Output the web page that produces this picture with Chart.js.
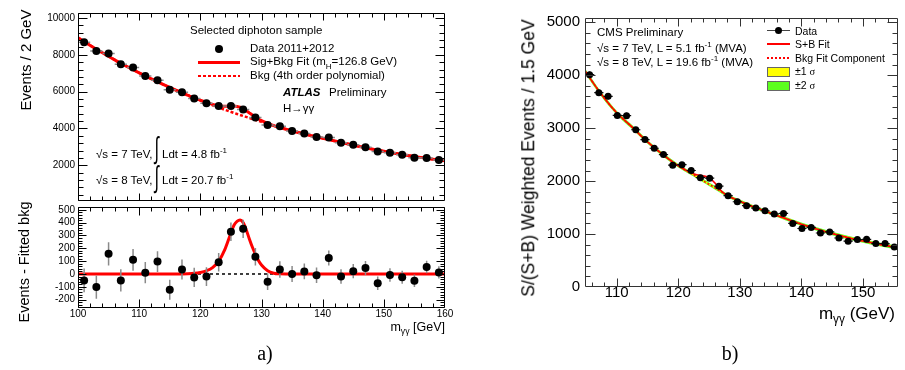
<!DOCTYPE html>
<html>
<head>
<meta charset="utf-8">
<script src="https://cdn.jsdelivr.net/npm/chart.js@4/dist/chart.umd.min.js"></script>
<style>
  body { margin: 0; background: #fff; }
  #fig { position: relative; width: 905px; height: 370px; background: #fff; overflow: hidden;
         font-family: 'Liberation Sans', Arial, Helvetica, sans-serif; color: #000; }
  canvas { position: absolute; }
  .t { position: absolute; white-space: nowrap; line-height: 1; transform: translateY(-50%); }
  .r { transform: translate(-100%, -50%); }
  .c { transform: translate(-50%, -50%); }
  .v { transform: translate(-50%, -50%) rotate(-90deg); }
  .serif { font-family: 'Liberation Serif', 'Times New Roman', serif; }
  sub, sup { font-size: 70%; line-height: 0; }
  .mk { position: absolute; }
</style>
</head>
<body>
<div id="fig">
  <canvas id="atlasMain" width="460" height="205" style="left:0;top:0"></canvas>
  <canvas id="atlasRes" width="460" height="125" style="left:0;top:203px"></canvas>
  <canvas id="cms" width="455" height="305" style="left:450px;top:0"></canvas>

  <!-- ATLAS panel text -->
  <div class="t v" style="left:25px;top:60px;font-size:15px">Events / 2 GeV</div>
  <div class="t v" style="left:24px;top:262px;font-size:14.5px">Events - Fitted bkg</div>
  <div class="t" style="left:190px;top:31px;font-size:11.5px">Selected diphoton sample</div>
  <div class="mk" style="left:215px;top:45px;width:8px;height:8px;border-radius:50%;background:#000"></div>
  <div class="t" style="left:250px;top:49px;font-size:11.5px">Data 2011+2012</div>
  <div class="mk" style="left:198px;top:61px;width:42px;height:3px;background:#f00"></div>
  <div class="t" style="left:250px;top:62px;font-size:11.5px">Sig+Bkg Fit (m<sub>H</sub>=126.8 GeV)</div>
  <div class="mk" style="left:198px;top:75px;width:42px;height:2px;background:repeating-linear-gradient(to right,#f00 0 3px,transparent 3px 5px)"></div>
  <div class="t" style="left:250px;top:76px;font-size:11.5px">Bkg (4th order polynomial)</div>
  <div class="t" style="left:283px;top:93px;font-size:11.5px;font-weight:bold;font-style:italic">ATLAS</div>
  <div class="t" style="left:329px;top:93px;font-size:11.5px">Preliminary</div>
  <div class="t" style="left:283px;top:109px;font-size:11.5px">H→γγ</div>
  <div class="t" style="left:96px;top:155px;font-size:11.5px">√s = 7 TeV,</div>
  <div class="t" style="left:154px;top:147px;font-size:20px;transform:translateY(-50%) scale(0.8,1.5)">∫</div>
  <div class="t" style="left:162px;top:155px;font-size:11.5px">Ldt = 4.8 fb<sup>-1</sup></div>
  <div class="t" style="left:96px;top:181px;font-size:11.5px">√s = 8 TeV,</div>
  <div class="t" style="left:154px;top:176px;font-size:20px;transform:translateY(-50%) scale(0.8,1.5)">∫</div>
  <div class="t" style="left:162px;top:181px;font-size:11.5px">Ldt = 20.7 fb<sup>-1</sup></div>
  <div class="t r" style="left:445px;top:327px;font-size:12.5px">m<sub>γγ</sub> [GeV]</div>
  <div class="t c serif" style="left:265px;top:353px;font-size:20px">a)</div>

  <!-- CMS panel text -->
  <div class="t v" style="left:529px;top:158px;font-size:17.5px">S/(S+B) Weighted Events / 1.5 GeV</div>
  <div class="t" style="left:597px;top:33px;font-size:11.5px">CMS Preliminary</div>
  <div class="t" style="left:597px;top:49px;font-size:11.5px">√s = 7 TeV, L = 5.1 fb<sup>-1</sup> (MVA)</div>
  <div class="t" style="left:597px;top:63px;font-size:11.5px">√s = 8 TeV, L = 19.6 fb<sup>-1</sup> (MVA)</div>
  <div class="mk" style="left:767px;top:30px;width:23px;height:1px;background:#444"></div>
  <div class="mk" style="left:775px;top:27px;width:7px;height:7px;border-radius:50%;background:#000"></div>
  <div class="t" style="left:795px;top:31px;font-size:10.5px">Data</div>
  <div class="mk" style="left:767px;top:43px;width:23px;height:2px;background:#f00"></div>
  <div class="t" style="left:795px;top:44px;font-size:10.5px">S+B Fit</div>
  <div class="mk" style="left:767px;top:57px;width:23px;height:2px;background:repeating-linear-gradient(to right,#f00 0 2px,transparent 2px 4px)"></div>
  <div class="t" style="left:795px;top:58px;font-size:10.5px">Bkg Fit Component</div>
  <div class="mk" style="left:767px;top:67px;width:21px;height:8px;background:#ffff00;border:1px solid #666"></div>
  <div class="t" style="left:795px;top:72px;font-size:10.5px">±1 <span class="serif">σ</span></div>
  <div class="mk" style="left:767px;top:81px;width:21px;height:8px;background:#5cff1f;border:1px solid #666"></div>
  <div class="t" style="left:795px;top:86px;font-size:10.5px">±2 <span class="serif">σ</span></div>
  <div class="t r" style="left:895px;top:313px;font-size:17px">m<sub>γγ</sub> (GeV)</div>
  <div class="t c serif" style="left:730px;top:353px;font-size:20px">b)</div>
</div>

<script>
// ---------- ATLAS data (a) ----------
const atlasMass = [101, 103, 105, 107, 109, 111, 113, 115, 117, 119, 121, 123, 125, 127, 129,
                   131, 133, 135, 137, 139, 141, 143, 145, 147, 149, 151, 153, 155, 157, 159];
const atlasEvents = [8680, 8200, 8075, 7480, 7305, 6855, 6620, 6100, 5960, 5620, 5370, 5225, 5225, 5030, 4600,
                     4190, 4115, 3865, 3720, 3540, 3505, 3220, 3115, 2985, 2755, 2685, 2575, 2415, 2390, 2285];
const atlasErr = [93, 91, 90, 87, 85, 83, 81, 78, 77, 75, 73, 72, 72, 71, 68,
                  65, 64, 62, 61, 60, 59, 57, 56, 55, 53, 52, 51, 49, 49, 48];
const atlasResid = [-50, -102, 157, -50, 110, 10, 97, -122, 35, -27, -20, 92, 330, 352, 135,
                    -60, 35, 0, 20, -10, 125, -20, 22, 47, -72, -8, -25, -52, 55, 12];

const atlasBkgX = [100, 102, 104, 106, 108, 110, 112, 114, 116, 118, 120, 122, 124, 126, 128, 130,
                   132, 134, 136, 138, 140, 142, 144, 146, 148, 150, 152, 154, 156, 158, 160];
const atlasBkgY = [8930, 8510, 8110, 7725, 7365, 7020, 6690, 6375, 6075, 5790, 5520, 5260, 5015, 4785, 4570, 4355,
                   4150, 3960, 3780, 3620, 3470, 3315, 3165, 3020, 2885, 2760, 2645, 2535, 2430, 2330, 2240];

const atlasFitX = [100, 102, 104, 106, 108, 110, 112, 114, 116, 118, 119, 120, 121, 122, 123, 124, 125, 125.5,
                   126, 126.5, 127, 127.5, 128, 128.5, 129, 129.5, 130, 131, 132, 133, 134, 136, 138, 140,
                   142, 144, 146, 148, 150, 152, 154, 156, 158, 160];
const atlasFitY = [8930, 8510, 8110, 7725, 7365, 7020, 6690, 6375, 6075, 5792, 5652, 5532, 5415, 5310, 5234, 5205, 5216, 5220,
                   5195, 5150, 5075, 4967, 4845, 4726, 4617, 4513, 4425, 4273, 4156, 4055, 3960, 3780, 3620, 3470,
                   3315, 3165, 3020, 2885, 2760, 2645, 2535, 2430, 2330, 2240];

const atlasSigX = [100, 116, 118, 119, 120, 121, 122, 123, 124, 125, 125.5, 126, 126.5, 127, 127.5,
                   128, 128.5, 129, 129.5, 130, 131, 132, 133, 134, 160];
const atlasSigY = [0, 0, 2, 5, 12, 25, 50, 100, 190, 320, 380, 410, 420, 400, 345,
                   275, 210, 155, 105, 70, 25, 6, 1, 0, 0];

const atlasXTicks = [100, 110, 120, 130, 140, 150, 160];
const atlasMainYTicks = [2000, 4000, 6000, 8000, 10000];
const atlasResYTicks = [-200, -100, 0, 100, 200, 300, 400, 500];

// ---------- CMS data (b) ----------
const cmsMass = [105.6, 107.1, 108.6, 110.1, 111.6, 113.1, 114.6, 116.1, 117.6, 119.1, 120.6, 122.1,
                 123.6, 125.1, 126.6, 128.1, 129.6, 131.1, 132.6, 134.1, 135.6, 137.1, 138.6, 140.1,
                 141.6, 143.1, 144.6, 146.1, 147.6, 149.1, 150.6, 152.1, 153.6, 155.1];
const cmsEvents = [4010, 3670, 3600, 3240, 3235, 2970, 2785, 2620, 2500, 2300, 2310, 2200,
                   2065, 2055, 1905, 1725, 1610, 1535, 1490, 1440, 1380, 1390, 1200, 1105,
                   1125, 1020, 1040, 925, 865, 895, 900, 820, 820, 755];
const cmsErr = [60, 58, 57, 55, 55, 52, 51, 50, 49, 47, 47, 46, 45, 45, 43, 41, 40,
                40, 39, 39, 38, 38, 36, 35, 35, 34, 34, 33, 32, 32, 32, 31, 31, 30];

const cmsCurveX = [104.85, 107.5, 110, 112.5, 115, 117.5, 120, 122, 123, 124, 125, 126, 127,
                   128, 130, 132.5, 135, 137.5, 140, 142.5, 145, 147.5, 150, 152.5, 155, 155.7];
const cmsBkgY = [4080, 3640, 3290, 3020, 2740, 2500, 2290, 2150, 2080, 2010, 1940, 1870, 1800,
                 1725, 1620, 1500, 1395, 1290, 1185, 1095, 1010, 935, 870, 810, 755, 740];
const cmsFitY = [4080, 3640, 3290, 3020, 2740, 2500, 2290, 2160, 2120, 2100, 2065, 1960, 1810,
                 1727, 1620, 1500, 1395, 1290, 1185, 1095, 1010, 935, 870, 810, 755, 740];
const cmsBand1 = [24, 22, 20, 19, 18, 17, 17, 16, 16, 16, 16, 16, 16,
                  16, 16, 16, 16, 16, 16, 16, 16, 17, 17, 18, 19, 20];
const cmsBand2 = [48, 44, 40, 38, 36, 34, 34, 32, 32, 32, 32, 32, 32,
                  32, 32, 32, 32, 32, 32, 32, 32, 34, 34, 36, 38, 40];

const cmsXTicks = [110, 120, 130, 140, 150];
const cmsYTicks = [0, 1000, 2000, 3000, 4000, 5000];

const FONT = "'Liberation Sans', Arial, Helvetica, sans-serif";

const pts = (xs, ys) => xs.map((x, i) => ({ x, y: ys[i] }));

function minorValues(scale, step) {
    const out = [];
    for (let v = Math.ceil(scale.min / step - 1e-9) * step; v <= scale.max + 1e-9; v += step) {
        out.push(+v.toFixed(6));
    }
    return out;
}

// ROOT-style frame: box with inward ticks on all four sides
function rootFrame(cfg) {
    return {
        id: 'rootFrame',
        afterDraw(chart) {
            const { ctx, chartArea: a } = chart;
            const xs = chart.scales.x, ys = chart.scales.y;
            const L = Math.round(a.left) + 0.5, R = Math.round(a.right) - 0.5;
            const T = Math.round(a.top) + 0.5, B = Math.round(a.bottom) - 0.5;
            ctx.save();
            ctx.strokeStyle = cfg.color;
            ctx.lineWidth = 1;
            ctx.beginPath();
            ctx.rect(L, T, R - L, B - T);
            const xTick = (v, len) => {
                const p = Math.round(xs.getPixelForValue(v)) + 0.5;
                if (p < L || p > R) return;
                ctx.moveTo(p, B); ctx.lineTo(p, B - len);
                ctx.moveTo(p, T); ctx.lineTo(p, T + len);
            };
            const yTick = (v, len) => {
                const p = Math.round(ys.getPixelForValue(v)) + 0.5;
                if (p < T || p > B) return;
                ctx.moveTo(L, p); ctx.lineTo(L + len, p);
                ctx.moveTo(R, p); ctx.lineTo(R - len, p);
            };
            minorValues(xs, cfg.xMinor).forEach(v => xTick(v, cfg.xLen[1]));
            cfg.xTicks.forEach(v => xTick(v, cfg.xLen[0]));
            minorValues(ys, cfg.yMinor).forEach(v => yTick(v, cfg.yLen[1]));
            cfg.yTicks.forEach(v => yTick(v, cfg.yLen[0]));
            ctx.stroke();

            ctx.fillStyle = '#000';
            ctx.font = cfg.font;
            if (cfg.yLabels) {
                ctx.textAlign = 'right';
                ctx.textBaseline = 'middle';
                cfg.yTicks.forEach(v => ctx.fillText(String(v), a.left - cfg.yGap, ys.getPixelForValue(v)));
            }
            if (cfg.xLabels) {
                ctx.textAlign = 'center';
                ctx.textBaseline = 'middle';
                cfg.xTicks.forEach(v => ctx.fillText(String(v), xs.getPixelForValue(v), a.bottom + cfg.xGap));
            }
            ctx.restore();
        }
    };
}

// error bars drawn just before the points dataset (index 0)
function errorBars(cfg) {
    return {
        id: 'errorBars',
        beforeDatasetDraw(chart, args) {
            if (args.index !== 0) return;
            const { ctx, chartArea: a, scales: { x, y } } = chart;
            ctx.save();
            ctx.beginPath();
            ctx.rect(a.left, a.top, a.right - a.left, a.bottom - a.top);
            ctx.clip();
            ctx.strokeStyle = cfg.color;
            ctx.lineWidth = cfg.width;
            ctx.beginPath();
            cfg.xs.forEach((m, i) => {
                const px = x.getPixelForValue(m), py = y.getPixelForValue(cfg.ys[i]);
                if (cfg.xHalf) {
                    ctx.moveTo(x.getPixelForValue(m - cfg.xHalf), py);
                    ctx.lineTo(x.getPixelForValue(m + cfg.xHalf), py);
                }
                ctx.moveTo(px, y.getPixelForValue(cfg.ys[i] - cfg.err[i]));
                ctx.lineTo(px, y.getPixelForValue(cfg.ys[i] + cfg.err[i]));
            });
            ctx.stroke();
            ctx.restore();
        }
    };
}

function makeChart(id, datasets, xr, yr, padding, plugins) {
    return new Chart(document.getElementById(id), {
        type: 'line',
        data: { datasets },
        options: {
            responsive: false,
            animation: false,
            events: [],
            devicePixelRatio: 1,
            layout: { padding },
            elements: { point: { radius: 0 }, line: { fill: false } },
            plugins: { legend: { display: false }, tooltip: { enabled: false } },
            scales: {
                x: { type: 'linear', display: false, min: xr[0], max: xr[1] },
                y: { type: 'linear', display: false, min: yr[0], max: yr[1] }
            }
        },
        plugins
    });
}

const dataPoints = (xs, ys, r) => ({
    data: pts(xs, ys), showLine: false, pointRadius: r,
    pointBackgroundColor: '#000', pointBorderWidth: 0, borderColor: '#000'
});

// ---- ATLAS main panel ----
makeChart('atlasMain', [
    dataPoints(atlasMass, atlasEvents, 4),
    { data: pts(atlasFitX, atlasFitY), borderColor: '#ff0000', borderWidth: 3, cubicInterpolationMode: 'monotone' },
    { data: pts(atlasBkgX, atlasBkgY), borderColor: '#ff0000', borderWidth: 2.5, borderDash: [3, 2], cubicInterpolationMode: 'monotone' }
], [100, 160], [60, 10270], { left: 78, right: 15, top: 13, bottom: 2 }, [
    errorBars({ xs: atlasMass, ys: atlasEvents, err: atlasErr, xHalf: 1, color: '#8a8a8a', width: 1.5 }),
    rootFrame({ color: '#000', xTicks: atlasXTicks, xMinor: 2, xLen: [7, 4],
                yTicks: atlasMainYTicks, yMinor: 400, yLen: [9, 5],
                yLabels: true, yGap: 3, xLabels: false, font: '10px ' + FONT })
]);

// ---- ATLAS residual panel ----
makeChart('atlasRes', [
    dataPoints(atlasMass, atlasResid, 4),
    { data: pts(atlasSigX, atlasSigY), borderColor: '#ff0000', borderWidth: 3, cubicInterpolationMode: 'monotone' },
    { data: pts([100, 160], [0, 0]), borderColor: '#000', borderWidth: 1.5, borderDash: [3, 3] }
], [100, 160], [-265, 522], { left: 78, right: 15, top: 0, bottom: 20 }, [
    errorBars({ xs: atlasMass, ys: atlasResid, err: atlasErr, xHalf: 0, color: '#8a8a8a', width: 1.5 }),
    rootFrame({ color: '#000', xTicks: atlasXTicks, xMinor: 2, xLen: [8, 4],
                yTicks: atlasResYTicks, yMinor: 20, yLen: [8, 4],
                yLabels: true, yGap: 3, xLabels: true, xGap: 6.5, font: '10px ' + FONT })
]);

// ---- CMS panel ----
makeChart('cms', [
    dataPoints(cmsMass, cmsEvents, 3.5),
    { data: pts(cmsCurveX, cmsFitY), borderColor: '#ff0000', borderWidth: 1.6, cubicInterpolationMode: 'monotone' },
    { data: pts(cmsCurveX, cmsBkgY), borderColor: '#ff0000', borderWidth: 1.5, borderDash: [2, 2], cubicInterpolationMode: 'monotone' },
    { data: cmsCurveX.map((x, i) => ({ x, y: cmsBkgY[i] + cmsBand1[i] })), borderWidth: 0, fill: '+1', backgroundColor: '#ffff00', cubicInterpolationMode: 'monotone' },
    { data: cmsCurveX.map((x, i) => ({ x, y: cmsBkgY[i] - cmsBand1[i] })), borderWidth: 0, cubicInterpolationMode: 'monotone' },
    { data: cmsCurveX.map((x, i) => ({ x, y: cmsBkgY[i] + cmsBand2[i] })), borderWidth: 0, fill: '+1', backgroundColor: '#5cff1f', cubicInterpolationMode: 'monotone' },
    { data: cmsCurveX.map((x, i) => ({ x, y: cmsBkgY[i] - cmsBand2[i] })), borderWidth: 0, cubicInterpolationMode: 'monotone' }
], [104.85, 155.7], [0, 5080], { left: 135, right: 7, top: 18, bottom: 18 }, [
    errorBars({ xs: cmsMass, ys: cmsEvents, err: cmsErr, xHalf: 0.75, color: '#111', width: 1.2 }),
    rootFrame({ color: '#333', xTicks: cmsXTicks, xMinor: 2, xLen: [8, 4],
                yTicks: cmsYTicks, yMinor: 200, yLen: [10, 5],
                yLabels: true, yGap: 5, xLabels: true, xGap: 6, font: '15px ' + FONT })
]);
</script>
</body>
</html>
